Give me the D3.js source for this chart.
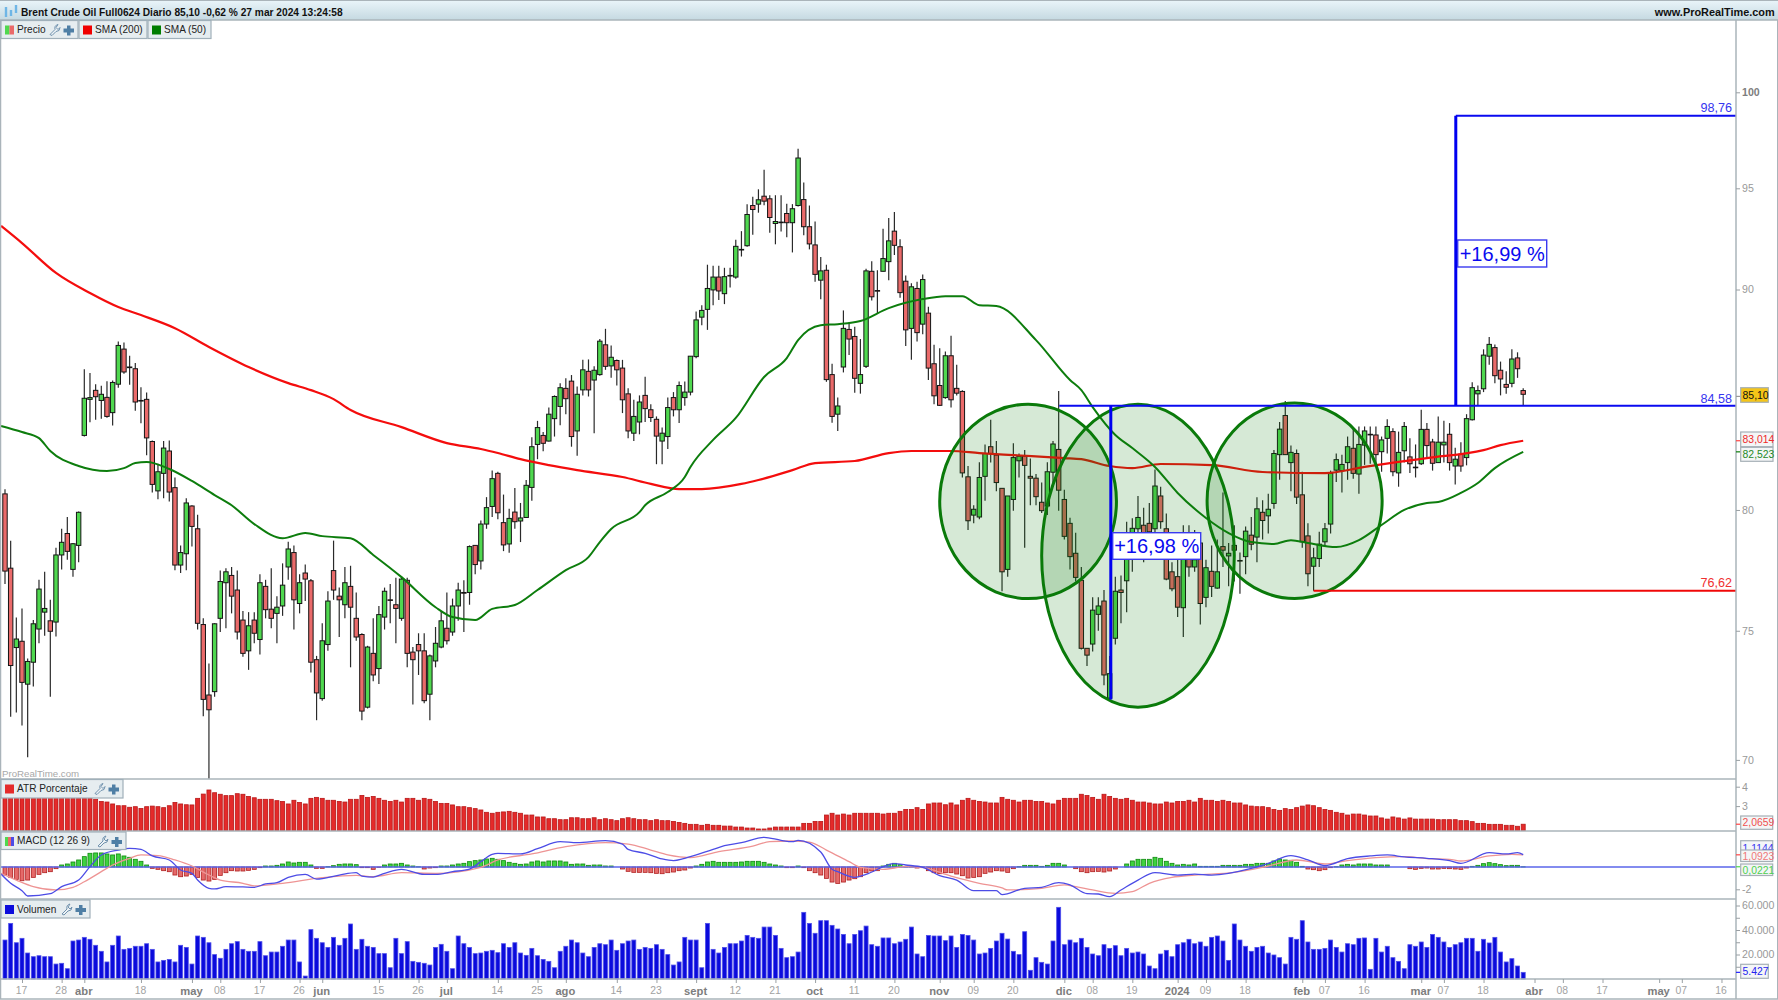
<html><head>
<meta charset="utf-8">
<script src="https://d3js.org/d3.v7.min.js"></script>
<style>
body { margin: 0; background: #fff; }
svg text { font-family: "Liberation Sans", Arial, sans-serif; }
.axis .domain { stroke: none; }
.axis line { stroke: #9aa0a4; }
.axis text { fill: #999; font-size: 10.6px; }
.xaxis text { font-size: 10.4px; fill: #a2a2a2; }
.xaxis text.month { font-weight: bold; fill: #7d7d7d; font-size: 11.2px; }
</style>
</head>
<body>
<svg id="chart" width="1778" height="1000"></svg>
<script>
// candles, one row = 10 bars
const bodyTop = [
80.69,77.55,74.67,74.58,73.78,75.28,76.69,75.9,75.4,78.1,
78.63,79,78.57,79.9,84.92,84.95,85.28,85.1,84.96,85.64,
87.35,87.18,86.35,86.27,84.82,84.87,82.98,81.65,82.69,82.56,
80.96,78.2,80.3,80.17,79.2,75.25,72.47,75.28,77,77.4,
77.25,76.65,75.43,75.2,75.43,76.95,76.8,75.87,75.95,76.85,
78.35,78.2,76.95,77.35,77.03,73.85,74.6,76.2,77.45,76.4,
76.95,76.8,75.5,74.85,74.35,74.1,75.65,76.6,76.25,76.05,
77.1,77.05,74.15,74.45,74.2,74,74.5,75.4,75.1,76,
76.65,76.55,78.45,78.5,79.4,80.1,81.35,81.58,79.46,79.64,
79.91,79.66,81.06,82.75,83.6,83.25,84.2,85,85.4,85.37,
85.7,85.1,86.22,86.15,86.2,87.55,87.38,86.8,86.65,86.3,
85.12,84.1,84.75,85.05,84.4,83.97,83.35,84.5,84.95,85.5,
85.2,86.85,88.55,89,90.05,90.6,90.6,90.62,90.68,92.1,
91.95,93.68,94.13,94.42,94.6,94.47,93.33,93.3,93.73,93.97,
96.55,94.43,93.07,92.17,90.9,90.93,86,84.57,88.15,88.1,
87.77,86,90.9,90.88,89.95,91.5,92.37,92.85,92.08,90.4,
90.13,90.05,90.48,88.87,86.5,85.5,86.87,86.87,85.37,85.23,
81.43,80.03,81.4,82.45,82.75,82.38,80.93,80.6,82.27,82.33,
82.33,81.45,81.37,80.33,81.65,82.87,82.63,80.45,79.43,78.17,
77.05,74.3,75.83,76,76.2,73.3,76.6,76.65,78.9,79.22,
79.68,79.35,79.43,81.03,80.6,79.2,77.4,77.2,77.95,77.95,
77.9,78.6,77.57,77.42,77.4,78.45,78.17,78.5,77.87,79.1,
78.93,80.05,79.9,80.03,82.45,83.53,84.14,82.5,82.45,80.65,
78.9,77.98,78.55,79.2,81.58,82.18,81.97,82.75,82.68,82.85,
83.45,83.3,83.27,83.05,83.65,83.42,82.5,83.65,82.3,81.85,
83.52,83.52,82.96,82.95,82.95,83.3,82.2,82.42,84,85.4,
85.27,86.9,87.4,87.25,86.2,85.55,86.72,86.77,85.27];

const bodyBottom = [
77.43,73.62,74.33,72.96,72.89,73.75,75.07,75.75,74.98,75.35,
78.1,78.25,77.5,78.5,83.25,84.87,84.99,84.82,84.1,84.27,
85.56,86.12,86.32,84.75,84.8,83.14,81.1,80.82,81.58,80.77,
77.68,77.68,78.15,79.3,75.3,72.3,71.9,72.6,75.5,76.95,
76.4,74.95,74.1,74.2,74.9,74.65,75.85,75.5,75.7,76,
77.6,76.25,76.1,77.1,73.75,72.55,72.33,74.45,76.65,76.25,
76.05,75.95,74.75,71.85,72,73.25,73.5,75.55,76.23,75.9,
75.5,74.1,73.85,74.2,72.25,72.5,73.8,74.35,74.6,74.95,
76,76.52,76.55,77.7,77.85,79.4,80.15,79.88,78.52,78.56,
79.5,79.53,79.68,80.97,82.85,82.9,83,84,84.55,84.9,
83.2,83.45,85.3,85.3,85.75,86,86.38,86.4,86.22,84.85,
83.45,83.35,83.85,84.45,84.05,83.22,83,83.2,84.4,84.4,
84.95,85.2,86.83,88.68,89.05,89.98,89.93,89.8,90.65,90.6,
91.92,92.13,93.93,94.2,94.35,93.53,93.23,93.28,93.27,93.27,
94.13,93.07,92.22,90.73,90.45,85.77,84.1,84.2,86.35,87.65,
85.83,85.6,86.38,89.65,89.93,90.88,91.35,92.15,89.85,88.08,
88.15,87.95,88.35,86.3,85.03,84.6,84.95,84.85,85.15,81.6,
79.54,79.78,79.7,81.45,82.45,81.18,77.4,77.5,80.45,82.13,
81.93,81.37,80.57,79.97,80.17,81.63,80.85,78.88,78.03,77.17,
74.3,74.03,74.47,75.66,73.25,72.35,74.7,76.55,77.03,78.7,
79.2,78.7,79.07,79.2,79.5,77.1,76.7,75.95,75.93,77.6,
77.6,76.1,76.35,76.8,76.73,78.3,78.06,78.3,77.85,78.03,
78.55,78.85,79.55,79.75,80.28,82.4,82.4,82.05,80.55,78.65,
77.32,77.63,77.95,78.65,79.4,81.72,81.7,82.05,81.58,81.55,
82.82,83.28,82.4,82.53,83.12,81.65,81.6,82.57,82,81.83,
82,82.8,82.02,82.05,82.83,82.05,81.9,81.9,82.27,83.95,
85.12,85.35,86.85,85.95,85.8,85.42,85.6,86.27,85.1];

const highs = [
80.89,78.7,75.53,75.9,73.9,75.43,77.07,77.4,76.25,78.4,
79.2,79.7,78.6,79.93,86.25,86.07,85.56,85.49,85.69,85.73,
87.53,87.49,86.87,86.53,85.42,85.18,83.02,82,83,83.02,
81.4,78.5,80.5,80.2,79.8,75.5,73.7,75.3,77.45,77.55,
77.6,77.45,75.8,75.75,75.75,77.3,77.07,77.55,76.4,77.75,
78.65,78.5,77.3,77.7,77.1,74,75.3,76.6,78.7,76.75,
77.6,77.65,76.55,74.9,74.4,75.5,76,76.75,76.9,77.15,
77.2,77.15,74.35,74.9,74.9,74.05,75.15,75.8,76.55,76.3,
76.95,77.05,78.5,78.5,79.55,80.55,81.7,81.65,80.66,80.05,
80.94,80.3,81.29,83.17,83.9,83.4,84.5,85.05,85.6,85.83,
85.98,85.45,86.68,86.7,86.38,87.65,88.13,87.35,86.7,86.68,
85.37,84.85,85.05,85.9,84.65,84.1,83.6,84.95,85.2,85.68,
85.68,86.85,88.95,89.25,91.2,91.15,91.15,91.05,91.05,92.43,
92.85,94.2,94.57,94.95,95.95,94.65,94.65,94.65,94.22,94.2,
97.03,95.3,94.13,93.33,91.58,91.2,86.5,84.95,89,88.43,
88.23,87.65,91,91.37,90.93,92.97,93.5,93.8,92.45,90.68,
90.3,90.37,90.72,89.18,87.38,87.22,87.07,87.8,86.45,85.28,
81.9,80.2,82.07,82.85,83.95,83,80.93,80.6,82.9,82.45,
82.6,82.23,81.55,81.18,82.07,83,85.25,80.87,79.67,79.03,
77.6,74.3,76.35,76.35,76.65,74,77.2,77.25,79.5,79.65,
80.6,80.1,80.3,81.75,81,79.85,77.8,77.9,79.35,79.35,
79.15,78.9,77.9,78.5,78.75,80.75,78.6,79.35,78.2,79.3,
79.7,80.55,80.42,80.7,82.6,83.85,84.8,82.8,82.63,81.65,
79.43,78.4,79.07,79.45,81.7,82.45,82.4,83.2,83.6,83.65,
83.65,83.65,83.65,83.2,83.97,83.57,83.42,83.85,83.12,82.85,
84.4,83.8,83.1,84.1,83.9,83.8,82.7,82.95,84.2,85.65,
85.5,87.17,87.75,87.4,86.6,86.15,87.17,87.03,85.37];

const lows = [
76.9,71.63,71.8,71.3,70.1,72.8,74.5,74.8,72.4,74.77,
77.5,77.9,77.2,77.8,83.2,83.84,83.95,84,84.04,83.69,
85.4,86.04,85.53,84.35,83.79,82.37,80.75,80.46,80.5,80.36,
77.46,77.35,77.46,78.45,75.05,71.65,69.3,72.4,74.95,75.1,
75.7,74.65,73.97,73.45,74.5,74.05,75.5,75.1,74.5,75.6,
77.07,75.05,75.7,76.2,73.35,71.5,72.25,74.2,76.25,74.75,
75.5,73.55,74.6,71.5,71.95,73,72.9,75.05,75.3,74.5,
75.4,73.55,72.1,73.25,72.15,71.5,73.55,74.3,74.45,74.8,
75.4,74.95,76.05,77.3,77.5,79.2,79.7,79.6,78.26,78.19,
79.2,78.64,79.67,80.4,82.2,82.55,82.98,83.2,83.7,84.2,
82.75,82.35,85.05,85,83.35,85.95,86.22,85.85,85.5,84.25,
83.12,83,83.3,83.85,83.85,81.98,81.98,82.65,84.1,83.8,
84.58,85.05,86.75,88.3,88.08,89.25,89.5,89.3,90.1,90.52,
91.6,92.08,92.67,93.77,94.15,92.77,92.2,92.83,92.55,91.8,
94.08,92.65,91.95,90.37,89.53,85.67,83.82,83.45,86.1,86.9,
85.17,85.13,86.3,89.47,88.83,90.87,90.45,91.67,89.6,87.32,
86.68,87.53,87.87,85.75,84.65,84.57,84.9,84.5,85.05,81.4,
79.15,79.43,79.6,80.4,82.05,80.8,76.6,77.2,79.97,81.4,
78.4,80.2,80.2,79.87,79.78,81,79.97,78.75,77.5,77,
74.25,73.6,74.17,75,72.85,72.3,74.45,75.3,75.75,77.4,
78.2,77.8,78.4,78.9,79.2,77.05,76.6,75.55,74.75,77.2,
77.4,75.25,75.95,76.37,76.7,77.6,76.8,77,76.5,77.3,
78.3,77.8,78.75,79,80.05,81.3,82.4,80.8,80.25,78.4,
76.8,76.62,77.6,78.45,79,81.2,80.75,81.3,81.35,80.7,
81.95,82,81.98,81.65,82.45,81.45,81,82.05,81.6,81.4,
81.95,82.25,81.7,82.05,82.05,81.7,81.1,81.65,81.93,83.92,
84.58,85.2,86.45,85.6,85.05,85.12,85.42,85.85,84.58];

// u = close above open, d = close below open
const direction = [
"dduduuuudu","uduuuududu","udddddduud","duudddduuu","dddududduu",
"ududdduudd","uddduduudd","udddduuudu","ududuuuddu","duuuuduuud",
"duuduududd","duuddduudu","uuuuuududu","dududduddu","udddudduud",
"duudduuddd","ududdduddd","duuuddduuu","dddduudddd","dduuduuduu",
"uddudddd"+"ud","ududududdu","duduuududd","duuuuuuudu","udduuduudd",
"udduududuu","uuudddudd"].join("").split("");

const atr = [
3.5,3.55,3.55,3.5,3.5,3.5,3.48,3.48,3.45,3.45,
3.45,3.42,3.42,3.42,3.42,3.42,3.35,3.24,3.21,3.11,
3.02,3.02,2.94,2.97,2.88,2.97,3,2.97,2.92,3.02,
3.19,3.11,3.07,3.06,3.4,3.62,3.83,3.69,3.61,3.54,
3.54,3.64,3.61,3.5,3.43,3.35,3.35,3.35,3.28,3.24,
3.11,3.3,3.19,3.11,3.4,3.45,3.4,3.3,3.3,3.24,
3.21,3.35,3.35,3.55,3.45,3.5,3.4,3.3,3.24,3.3,
3.21,3.4,3.4,3.3,3.4,3.35,3.24,3.14,3.14,3.06,
2.97,2.97,2.92,2.87,2.8,2.68,2.63,2.68,2.7,2.73,
2.68,2.63,2.54,2.54,2.44,2.44,2.35,2.35,2.3,2.3,
2.4,2.4,2.35,2.35,2.4,2.3,2.35,2.3,2.25,2.35,
2.4,2.35,2.3,2.3,2.25,2.3,2.25,2.25,2.21,2.16,
2.11,2.06,2.06,2.01,2.06,2.01,2.01,1.97,1.97,1.92,
1.92,1.87,1.87,1.82,1.82,1.87,1.92,1.92,1.92,1.92,
1.92,2.11,2.11,2.21,2.21,2.54,2.63,2.54,2.59,2.54,
2.63,2.63,2.63,2.63,2.63,2.59,2.63,2.63,2.73,2.83,
2.83,2.92,2.83,3.11,3.16,3.16,3.07,3.16,3.06,3.3,
3.4,3.3,3.24,3.21,3.16,3.16,3.45,3.35,3.3,3.21,
3.3,3.3,3.24,3.24,3.16,3.11,3.3,3.4,3.4,3.4,
3.61,3.55,3.45,3.35,3.61,3.5,3.4,3.35,3.4,3.3,
3.21,3.21,3.16,3.11,3.11,3.21,3.16,3.24,3.24,3.3,
3.21,3.4,3.3,3.3,3.24,3.3,3.24,3.16,3.16,3.06,
3,2.97,2.97,2.92,2.83,2.78,2.87,2.83,2.92,3,
3.06,3.02,2.92,2.83,2.78,2.68,2.63,2.54,2.59,2.59,
2.54,2.49,2.49,2.39,2.33,2.44,2.39,2.33,2.39,2.33,
2.33,2.33,2.33,2.3,2.3,2.3,2.3,2.25,2.25,2.2,
2.11,2.11,2.06,2.06,2.06,2.01,2.01,1.96,2.0659];

const macdHist = [
-.72,-.93,-1.11,-1.23,-1.17,-.93,-.66,-.51,-.42,-.15,
.18,.27,.45,.63,.93,1.23,1.26,1.26,1.17,1.08,
1.17,.99,.87,.69,.51,.18,-.12,-.21,-.33,-.42,
-.72,-.87,-.81,-.66,-.93,-1.17,-1.26,-1.11,-.75,-.51,
-.33,-.36,-.36,-.3,-.21,-.06,.09,.09,.15,.27,
.45,.36,.42,.42,.18,-.12,-.12,.03,.12,.24,
.27,.27,.21,-.06,-.06,-.21,-.03,.18,.27,.27,
.33,.18,.09,.02,-.18,-.09,-.06,.09,.09,.18,
.27,.33,.48,.57,.63,.72,.78,.69,.57,.42,
.33,.24,.27,.45,.54,.45,.54,.54,.54,.45,
.24,.27,.27,.15,.18,.18,.09,.09,0,-.18,
-.39,-.48,-.48,-.48,-.51,-.57,-.6,-.51,-.45,-.33,
-.27,-.09,.09,.24,.45,.51,.42,.42,.42,.42,
.45,.51,.51,.51,.42,.27,.18,.09,-.06,-.06,
.09,-.06,-.33,-.51,-.72,-1.02,-1.35,-1.47,-1.35,-1.17,
-1.05,-.87,-.51,-.36,-.33,.09,.24,.33,.21,.06,
.06,-.09,-.03,-.33,-.51,-.6,-.51,-.51,-.63,-.78,
-.99,-.93,-.87,-.57,-.45,-.33,-.36,-.48,-.15,.03,
.15,.15,.15,.06,.15,.33,.33,.18,0,-.15,
-.42,-.51,-.42,-.39,-.45,-.36,-.18,0,.27,.54,
.69,.69,.69,.87,.78,.51,.33,.18,.24,.18,
.27,.06,.06,.06,.06,.15,.15,.15,.15,.24,
.24,.33,.33,.33,.54,.72,.63,.6,.42,.06,
-.18,-.24,-.33,-.24,-.06,.03,.18,.24,.18,.27,
.27,.27,.18,.18,.18,0,0,0,-.15,-.21,
-.12,-.09,-.18,-.18,-.12,-.15,-.18,-.21,-.09,.06,
.15,.3,.39,.3,.21,.12,.15,.15,.02];

const volumeK = [
31.8,45.4,29.6,33.2,21.2,18.2,19,18.2,18.2,12.2,
12.8,8.4,31,31.8,34,32.4,27.5,22.6,13.9,27.5,
35.1,24.2,25,26.7,26.7,28.8,24.2,13.9,15.2,16,
13.9,27.5,25.8,12.2,35.1,34,29.6,19.9,16.9,24.2,
28.8,30.5,24.2,22.6,22.6,30.5,19,22,22,26.7,
31.8,31.8,13.9,2.4,40.3,33.2,29.6,25.8,34,27.5,
33.2,44.9,24.2,32.4,26.7,25.8,20.7,20.7,9.2,33.2,
20.7,30.5,14.4,13.6,12.8,11.4,25.8,28.3,22.6,8.4,
35.1,28.8,25.8,20.7,21.2,22.6,23.4,21.5,28.8,25.8,
29.6,21.2,19.3,25,19,16,14.4,9.2,22.6,26.7,
31.8,29.6,21.2,18.2,25.8,28.8,28,31.8,23.4,28.8,
31,31.8,24.2,25.8,25,28,24.2,19.9,11.4,13.9,
34,31.8,31.8,9.2,45.4,24.2,21.2,25.8,28.8,28.8,
31,35.6,34,33.2,42.4,42.4,35.6,25,17.4,18.2,
22,54.4,45.4,37.3,47.6,47.6,43.8,40.8,36.4,28.8,
36.4,39.4,43.2,28,26.7,33.5,33.5,28.8,30.2,32.4,
42.4,20.4,18.2,35.6,35.1,35.1,31.3,35.1,25.8,36.4,
35.6,31.8,20.4,21.2,25,31,37.3,32.6,22.6,19.9,
38.6,7.1,17.4,13.6,12.2,31,58.5,28,31.8,29.6,
33.2,25.8,20.4,19,28,25,27.2,19,25,21.2,
22,20.4,10.6,8.4,20.4,23.4,18.2,28,29.6,32.4,
28.8,30.2,26.7,34,35.1,31,15.2,44.9,31.8,26.7,
22.6,25.8,26.7,21.2,19.6,17.4,12.2,34,32.4,47.6,
30.2,24.2,24.2,25,31.8,25.8,22,28.8,28,33.2,
33.5,7.9,33.2,22,26.7,17.4,14.4,8.4,28,26.7,
30.2,25.8,36.4,34,30.2,25.8,28,29.6,33.2,33.2,
22.6,32.4,29.4,34,22,13.9,16.6,10.6,5.427];

// moving averages and MACD lines, read at the visible bends: bar number / value
const sma200Bars = [-.7,3,9,15,20,24,30,36,43,50,54,58,61,70,78,84,87,91,96,101,109,114,119,123,130,133,139,143,150,156,160,167,172,178,187,190,195,199,204,213,222,233,240,246,251,261,264,268];
const sma200 = [93.11,92.26,90.8,89.83,89.16,88.78,88.16,87.28,86.35,85.61,85.29,84.88,84.39,83.62,82.91,82.65,82.47,82.2,81.94,81.72,81.42,81.12,80.9,80.9,81.12,81.29,81.72,82.03,82.12,82.47,82.56,82.56,82.47,82.38,82.25,82.2,81.9,81.81,81.99,81.94,81.64,81.59,81.86,82.08,82.25,82.6,82.82,83.014];

const sma50Bars = [-.7,3,6,8,13,18,21,23,25,29,33,37,40,44,49,53,56,61,65,70,76,79,83,86,90,94,99,103,105,107,112,113,117,120,121,125,129,134,138,140,144,147,151,156,162,166,169,172,175,182,188,190,192,196,199,203,207,212,216,220,224,227,230,235,239,243,247,251,253,257,260,263,268];
const sma50 = [83.67,83.4,83.13,82.56,81.9,81.68,81.81,82.03,82.08,81.77,81.25,80.64,80.2,79.4,78.8,79.02,78.89,78.8,78.1,77.18,75.95,75.55,75.43,75.88,76.04,76.65,77.47,78.01,78.64,79.19,79.91,80.2,80.77,81.42,81.86,83.05,84.03,85.89,86.76,87.6,88.3,88.35,88.5,89.11,89.54,89.68,89.68,89.25,89.21,87.6,85.75,85.29,84.52,83.27,82.69,81.86,80.73,79.66,79.02,78.64,78.56,78.72,78.6,78.43,78.72,79.36,80,80.3,80.34,80.73,81.16,81.81,82.523];

const macdBars = [-.7,1,3,4,8,10,13,15,17,20,22,24,26,29,31,33,34,36,37,39,42,44,46,48,50,53,55,59,62,63,65,67,70,74,76,79,82,84,86,87,91,94,98,101,106,109,110,113,116,118,120,125,127,130,134,137,139,140,144,146,147,150,152,157,159,162,165,168,171,175,176,180,183,186,188,191,193,195,197,200,203,207,210,213,220,223,227,230,233,237,241,244,247,251,255,257,262,265,267,268];
const macdLine = [-.63,-1.46,-2.12,-2.6,-2.39,-1.76,-1.17,.03,1.08,1.52,1.67,1.58,.99,.63,-.27,-.57,-1.17,-1.91,-1.97,-1.76,-1.79,-1.82,-1.52,-1.4,-.93,-.66,-1.08,-.72,-.51,-.81,-.9,-.57,-.21,-.66,-.66,-.42,-.18,.48,1.14,1.23,1.17,1.64,2.27,2.18,2.36,2.06,1.58,1.23,.72,.57,.78,1.58,1.91,2.18,2.66,2.39,2.27,2.39,1.35,-.21,-.42,-.93,-.66,.3,.18,-.03,-.78,-1.17,-2.12,-2.12,-2.48,-1.91,-1.82,-1.4,-1.61,-2.39,-2.42,-2.66,-2.06,-1.17,-.51,-.72,-.63,-.72,-.12,.33,1.02,.63,.12,.75,.99,1.08,.9,.78,.57,.33,1.29,1.17,1.29,1.1144];

const signalBars = [-.7,2,5,9,12,14,17,19,22,24,27,30,33,36,38,42,44,49,56,62,65,70,76,84,87,93,99,106,110,114,117,121,126,132,135,139,142,145,149,151,155,159,162,167,172,176,177,183,187,189,192,196,199,202,206,210,217,223,228,233,237,242,247,251,255,257,262,266,268];
const signalLine = [-.57,-1.17,-1.76,-2.06,-1.82,-1.32,-.42,.18,.78,1.08,1.02,.63,.09,-.72,-1.17,-1.46,-1.7,-1.46,-.96,-.75,-.87,-.51,-.57,-.03,.63,1.17,1.82,2.18,2.06,1.52,1.08,.84,1.38,1.88,2.27,2.33,2.24,1.52,.48,-.03,-.21,.03,-.06,-.81,-1.46,-1.88,-2.06,-1.91,-1.61,-1.76,-2.06,-2.36,-2.21,-1.46,-.93,-.72,-.48,.09,.63,.27,.57,.84,.93,.75,.69,.54,.99,1.14,1.0923];

// drawn levels and zones
const levelLow = 76.62, levelMid = 84.58, levelHigh = 98.76, swingLow = 72.3;
const zoneBars = [[165,196.2],[183,217],[212.2,243.1]];
const zonePrices = [[84.65,76.3],[84.65,72],[84.7,76.3]];

const priceTicks = [100,95,90,80,75,70];
const atrTicks = [4,3];
const macdTicks = [-2];
const volumeTicks = [60000,50000,40000,30000,20000,10000];

const xTickBars = [3,10,14,24,33,38,45,52,56,66,73,78,87,94,99,108,115,122,129,136,143,150,157,165,171,178,187,192,199,207,212,219,229,233,240,250,254,261,270,275,282,292,296,303];
const xTickLabels = ["17","28","abr","18","may","08","17","26","jun","15","26","jul","14","25","ago","14","23","sept","12","21","oct","11","20","nov","09","20","dic","08","19","2024","09","18","feb","07","16","mar","07","18","abr","08","17","may","07","16"];
const monthNames = ["abr","may","jun","jul","ago","sept","oct","nov","dic","2024","feb","mar"];

const svg = d3.select("#chart");
const defs = svg.append("defs");

const axisX = 1736;
const panels = {price:[20,779], atr:[779,831], macd:[831,899], vol:[899,979]};

let grad = defs.append("linearGradient").attr("id","head").attr("x1",0).attr("x2",0).attr("y1",0).attr("y2",1);
grad.append("stop").attr("offset","0%").attr("stop-color","#eaf5fa");
grad.append("stop").attr("offset","100%").attr("stop-color","#c5d9e1");

Object.keys(panels).forEach(k => {
  defs.append("clipPath").attr("id","clip-"+k).append("rect")
    .attr("x",1).attr("y",panels[k][0]).attr("width",axisX-1).attr("height",panels[k][1]-panels[k][0]);
});

const x = d3.scaleLinear().domain([0,268]).range([5,1523.2]);
const price = d3.scaleLog().domain([70,100]).range([759.9,92.3]);
const atrY = d3.scaleLinear().domain([4,2]).range([786.7,825.5]);
const macdY = d3.scaleLinear().domain([0,-2]).range([867,889.3]);
const volY = d3.scaleLinear().domain([0,60000]).range([979,905.5]);

// candles
let candles = svg.append("g").attr("clip-path","url(#clip-price)");
direction.forEach((dir,i) => {
  candles.append("line")
    .attr("x1",x(i)).attr("x2",x(i))
    .attr("y1",price(highs[i])).attr("y2",price(lows[i]))
    .attr("stroke","#2a2a2a").attr("stroke-width",1.2);
  let top = price(bodyTop[i]), bottom = price(bodyBottom[i]);
  candles.append("rect")
    .attr("x",x(i)-2.2).attr("width",4.4)
    .attr("y",top).attr("height",Math.max(bottom-top,0.6))
    .attr("fill",dir == "u" ? "#4fd84f" : "#ea6a6a")
    .attr("stroke","#141414").attr("stroke-width",1);
});

// moving averages
let curve = d3.line().curve(d3.curveMonotoneX);
svg.append("path")
  .attr("d",curve(sma200Bars.map((b,i) => [x(b),price(sma200[i])])))
  .attr("fill","none").attr("stroke","#f40d0d").attr("stroke-width",2.2);
svg.append("path")
  .attr("d",curve(sma50Bars.map((b,i) => [x(b),price(sma50[i])])))
  .attr("fill","none").attr("stroke","#0d7d0d").attr("stroke-width",2);

// zones
zoneBars.forEach((b,i) => {
  svg.append("ellipse")
    .attr("cx",(x(b[0])+x(b[1]))/2)
    .attr("cy",(price(zonePrices[i][0])+price(zonePrices[i][1]))/2)
    .attr("rx",(x(b[1])-x(b[0]))/2)
    .attr("ry",(price(zonePrices[i][1])-price(zonePrices[i][0]))/2)
    .attr("fill","#0a7d0a").attr("fill-opacity",0.17)
    .attr("stroke","#0a7a0a").attr("stroke-width",3);
});

// levels
const barA = 195.2, barB = 256.1, barC = 231, barD = 186.1;
function level(x1,x2,v,color) {
  svg.append("line").attr("x1",x1).attr("x2",x2).attr("y1",price(v)).attr("y2",price(v))
    .attr("stroke",color).attr("stroke-width",2);
}
level(x(barD),axisX,levelMid,"#0a0af0");
level(x(barB),axisX,levelHigh,"#0a0af0");
level(x(barC),axisX,levelLow,"#f00808");
function vertical(bar,v1,v2) {
  svg.append("line").attr("x1",x(bar)).attr("x2",x(bar)).attr("y1",price(v1)).attr("y2",price(v2))
    .attr("stroke","#0000f0").attr("stroke-width",3);
}
vertical(barA,levelMid,swingLow);
vertical(barB,levelHigh,levelMid);

function percentBox(x0,y0,w,h,label) {
  svg.append("rect").attr("x",x0).attr("y",y0).attr("width",w).attr("height",h)
    .attr("fill","#fff").attr("stroke","#3a3af0").attr("stroke-width",1.4);
  svg.append("text").attr("x",x0+w/2).attr("y",y0+h/2+7).attr("text-anchor","middle")
    .attr("font-size",20).attr("fill","#0a0af0").text(label);
}
percentBox(1112.7,532.7,88,26.6,"+16,98 %");
percentBox(1457.7,240,89,27,"+16,99 %");

[[112,"98,76","#3535f0"],[403,"84,58","#3535f0"],[587,"76,62","#f03030"]].forEach(d => {
  svg.append("text").attr("x",1732).attr("y",d[0]).attr("text-anchor","end")
    .attr("font-size",12.6).attr("fill",d[2]).text(d[1]);
});

// ATR bars
let atrG = svg.append("g").attr("clip-path","url(#clip-atr)");
atr.forEach((v,i) => {
  atrG.append("rect").attr("x",x(i)-2).attr("width",4)
    .attr("y",atrY(v)).attr("height",panels.atr[1]-atrY(v))
    .attr("fill","#e42a2a").attr("stroke","#b81818").attr("stroke-width",0.8);
});

// MACD
let macdG = svg.append("g").attr("clip-path","url(#clip-macd)");
macdHist.forEach((v,i) => {
  macdG.append("rect").attr("x",x(i)-2).attr("width",4)
    .attr("y",Math.min(macdY(v),macdY(0))).attr("height",Math.abs(macdY(v)-macdY(0)))
    .attr("fill",v > 0 ? "#3fd23f" : "#e56a6a")
    .attr("stroke",v > 0 ? "#0f8a0f" : "#b02020").attr("stroke-width",0.8);
});
macdG.append("line").attr("x1",1).attr("x2",axisX).attr("y1",macdY(0)).attr("y2",macdY(0))
  .attr("stroke","#5a66ea").attr("stroke-width",1.6);
macdG.append("path")
  .attr("d",curve(signalBars.map((b,i) => [x(b),macdY(signalLine[i])])))
  .attr("fill","none").attr("stroke","#ee9494").attr("stroke-width",1.3);
macdG.append("path")
  .attr("d",curve(macdBars.map((b,i) => [x(b),macdY(macdLine[i])])))
  .attr("fill","none").attr("stroke","#4c4ce6").attr("stroke-width",1.3);

// volume
volumeK.forEach((v,i) => {
  svg.append("rect").attr("x",x(i)-2).attr("width",4)
    .attr("y",volY(v*1000)).attr("height",volY(0)-volY(v*1000))
    .attr("fill","#0b0bdc").attr("stroke","#5050ea").attr("stroke-width",0.8);
});

// frame
function hline(y,x1,x2,w) {
  svg.append("line").attr("x1",x1).attr("x2",x2).attr("y1",y).attr("y2",y)
    .attr("stroke","#aab4ba").attr("stroke-width",w);
}
hline(779,0,axisX,1.5); hline(831,0,axisX,1.5); hline(899,0,axisX,1.5); hline(979,0,axisX,1.5);
hline(999,0,1778,1.5);
svg.append("line").attr("x1",axisX).attr("x2",axisX).attr("y1",20).attr("y2",999).attr("stroke","#aab4ba").attr("stroke-width",1.5);
svg.append("line").attr("x1",0.5).attr("x2",0.5).attr("y1",20).attr("y2",999).attr("stroke","#aab4ba").attr("stroke-width",1.5);
svg.append("line").attr("x1",1777.5).attr("x2",1777.5).attr("y1",0).attr("y2",999).attr("stroke","#aab4ba").attr("stroke-width",1);

// axes
function yAxis(scale,ticks,fmt) {
  let g = svg.append("g").attr("class","axis").attr("transform","translate("+axisX+",0)")
    .call(d3.axisRight(scale).tickValues(ticks).tickSize(4).tickPadding(2).tickFormat(fmt));
  return g;
}
let priceAxis = yAxis(price,priceTicks,d3.format("d"));
priceAxis.selectAll("text").filter(d => d == 100).attr("font-weight","bold").style("fill","#7d7d7d");
yAxis(atrY,atrTicks,d3.format("d"));
yAxis(macdY,macdTicks,d => String(d));
yAxis(volY,volumeTicks,d => d % 20000 == 0 ? d3.format(",")(d).replace(",",".") : "");

let xAxis = svg.append("g").attr("class","axis xaxis").attr("transform","translate(0,979)")
  .call(d3.axisBottom(x).tickValues(xTickBars).tickSize(4).tickPadding(4)
    .tickFormat((d,i) => xTickLabels[i]));
xAxis.selectAll("text")
  .attr("dx",-1)
  .attr("class",function() { return monthNames.includes(d3.select(this).text()) ? "month" : null; });

// value tags on the right
function tag(y0,h,w,text,fill,color) {
  let g = svg.append("g");
  g.append("rect").attr("x",1740.7).attr("y",y0).attr("width",w).attr("height",h)
    .attr("fill",fill).attr("stroke","#a6b0b6").attr("stroke-width",1.2);
  g.append("text").attr("x",1742.6).attr("y",y0+h/2+3.8).attr("font-size",10.4)
    .attr("fill",color).text(text);
}
function tagTick(y,color) {
  svg.append("line").attr("x1",axisX).attr("x2",1740.5).attr("y1",y).attr("y2",y).attr("stroke",color).attr("stroke-width",1.2);
}
tagTick(396.4,"#999"); tag(387.7,14.6,27.6,"85,10","#f5c518","#111");
tagTick(price(83.014),"#f44"); tag(432,14.7,32.3,"83,014","#f4f6f7","#f02a2a");
tagTick(price(82.523),"#0a7d0a"); tag(447.3,14,32.3,"82,523","#f4f6f7","#1f8a1f");
tagTick(atrY(2.0659),"#f44"); tag(816,13.3,32,"2,0659","#f4f6f7","#f05050");
tag(840.7,14,32,"1,1144","#f4f6f7","#3a3af0");
tagTick(macdY(1.0923),"#f44"); tag(850,11.5,32,"1,0923","#f4f6f7","#f07878");
tagTick(macdY(0.0221),"#4fd84f"); tag(864,11.5,32,"0,0221","#f4f6f7","#4fd04f");
tagTick(volY(5427),"#22f"); tag(964.3,14,27.6,"5.427","#f4f6f7","#2424f0");

// header
svg.append("rect").attr("x",0).attr("y",0).attr("width",1778).attr("height",20).attr("fill","url(#head)");
hline(0.5,0,1778,1); hline(20,0,1778,1.4);
svg.append("text").attr("x",21).attr("y",15.5).attr("font-size",10.2).attr("font-weight","bold").attr("fill","#111")
  .text("Brent Crude Oil Full0624 Diario 85,10 -0,62 % 27 mar 2024 13:24:58");
svg.append("text").attr("x",1774.7).attr("y",15.5).attr("text-anchor","end").attr("font-size",10.9).attr("font-weight","bold").attr("fill","#111")
  .text("www.ProRealTime.com");
[[5,8,17],[10,11,16],[15,6,13]].forEach(d => {
  svg.append("line").attr("x1",d[0]+1).attr("x2",d[0]+1).attr("y1",d[1]-1).attr("y2",d[2]).attr("stroke","#6fb6e6").attr("stroke-width",2.4);
});

// legend chips
function wrench(g,x0,y0) {
  g.append("path").attr("d","M"+(x0+1)+" "+(y0+10)+" L"+(x0+6)+" "+(y0+5)+" Q"+(x0+5)+" "+(y0+1)+" "+(x0+9)+" "+y0+" L"+(x0+7)+" "+(y0+3)+" L"+(x0+9)+" "+(y0+5)+" L"+(x0+11)+" "+(y0+3)+" Q"+(x0+11)+" "+(y0+7)+" "+(x0+7)+" "+(y0+7)+" L"+(x0+3)+" "+(y0+11)+" Z")
    .attr("fill","#eef3f6").attr("stroke","#6f91ad").attr("stroke-width",1);
  g.append("path").attr("d","M"+(x0+18)+" "+(y0+1)+" v3 h-3.5 v4 h3.5 v3 h3.5 v-3 h3.5 v-4 h-3.5 v-3 Z")
    .attr("fill","#4f7fa5");
}
function chip(x0,y0,w,h,label,textX,colors,withTool) {
  let g = svg.append("g");
  g.append("rect").attr("x",x0).attr("y",y0).attr("width",w).attr("height",h)
    .attr("fill","#e6edf0").attr("stroke","#a0b0ba").attr("stroke-width",1.2);
  colors.forEach((c,i) => {
    g.append("rect").attr("x",x0+4+i*9/colors.length).attr("y",y0+5).attr("width",9/colors.length).attr("height",9).attr("fill",c);
  });
  g.append("text").attr("x",textX).attr("y",y0+h/2+3.6).attr("font-size",10.1).attr("fill","#222").text(label);
  if (withTool) wrench(g,x0+w-29,y0+4);
}
chip(1,20.5,77,18,"Precio",17,["#4fd84f","#ea6a6a"],true);
chip(79,20.5,68,18,"SMA (200)",95,["#f00000"],false);
chip(148,20.5,63,18,"SMA (50)",164,["#007d00"],false);
chip(1,779.5,122,18.5,"ATR Porcentaje",17,["#e42a2a"],true);
chip(1,832,125,17.5,"MACD (12 26 9)",17,["#4fd84f","#ea6a6a","#4c4ce6"],true);
chip(1,900,89,18,"Volumen",17,["#0b0bdc"],true);

svg.append("text").attr("x",2).attr("y",777).attr("font-size",9.7).attr("fill","#a8a8a8").text("ProRealTime.com");
</script>
</body>
</html>
